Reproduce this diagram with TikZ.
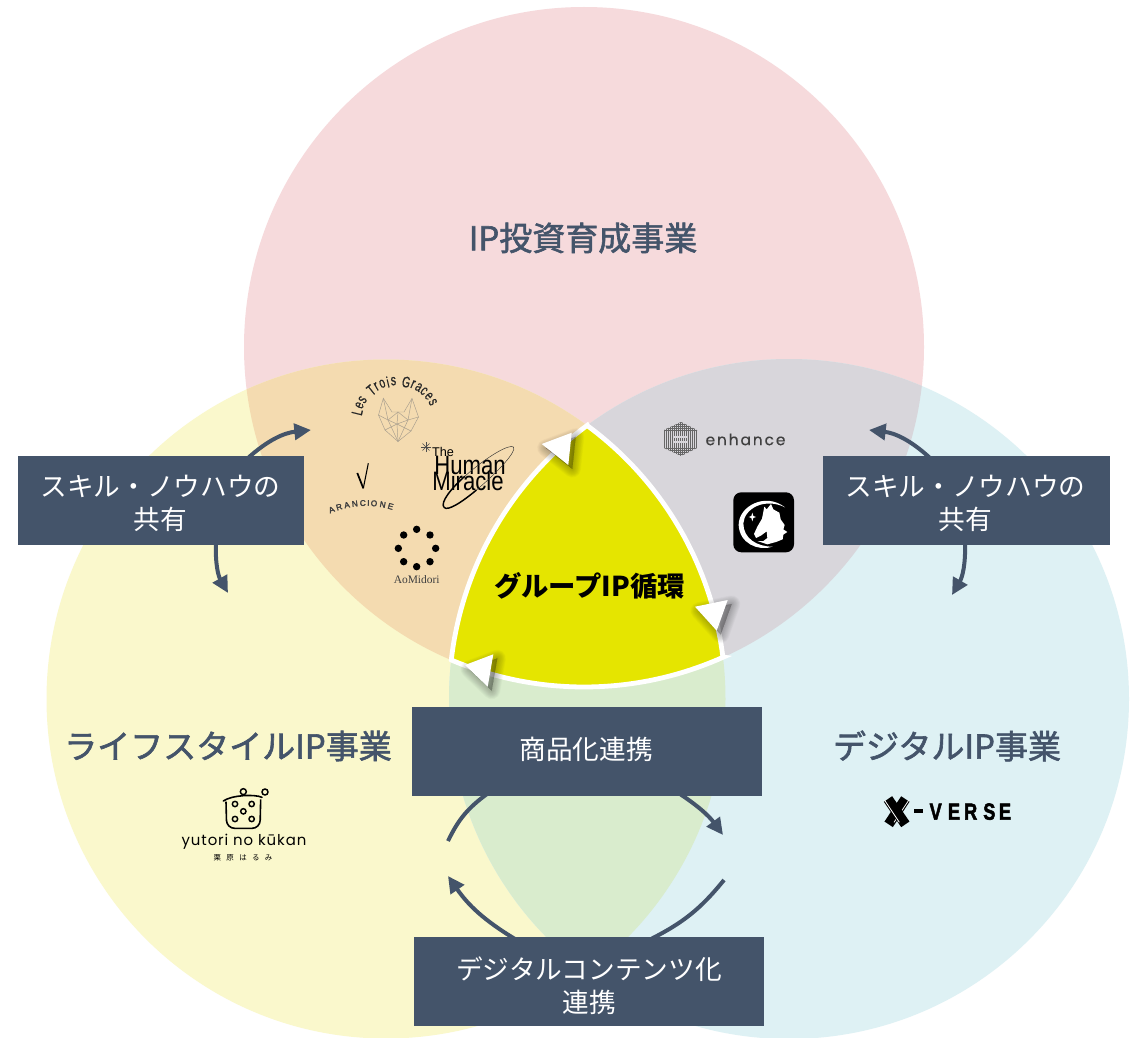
\documentclass[tikz,border=0pt]{standalone}
\usepackage{fontspec}
\usetikzlibrary{arrows.meta}
\setmainfont{Noto Sans CJK JP}
\newfontfamily\cjkbold[FakeBold=1.8]{Noto Sans CJK JP}
\newfontfamily\lsans{Liberation Sans}
\newfontfamily\lserif{Liberation Serif}
\newfontfamily\lheavy[FakeBold=2.5]{Liberation Sans}
\newfontfamily\lmid[FakeBold=0.6]{Liberation Sans}
\newfontfamily\poppsp[LetterSpace=12,FakeBold=0.4]{Poppins}
\newfontfamily\poppyu[LetterSpace=6]{Poppins}
\definecolor{cpink}{HTML}{F6DADC}
\definecolor{cyel}{HTML}{FAF8CC}
\definecolor{cblue}{HTML}{DEF1F4}
\definecolor{corange}{HTML}{F4DBB0}
\definecolor{cgrey}{HTML}{D8D6DB}
\definecolor{cgreen}{HTML}{D9ECCD}
\definecolor{ccentre}{HTML}{E5E500}
\definecolor{cdark}{HTML}{44546A}
\definecolor{cwire}{HTML}{A89E8E}
\def\circT{(584,347) circle [radius=340]}
\def\circL{(386,699) circle [radius=339.5]}
\def\circR{(789,699) circle [radius=340]}
\tikzset{
  box/.style={fill=cdark,text=white,align=center,inner sep=0pt,font=\fontsize{20}{24.75}\selectfont},
  title/.style={text=cdark,inner sep=0pt,font=\fontsize{24.75}{30}\cjkbold},
  flow/.style={draw=cdark,line width=3pt,-{Triangle[length=12.5pt,width=12pt]}},
  wire/.style={draw=cwire,line width=0.35pt},
  head/.style={fill=white},
}
\newcommand{\softhead}[6]{%
  \foreach \w in {13pt,12pt,11pt,10pt,9pt,8pt,7pt,6pt,5pt,4pt,3pt,2pt,1pt,0.2pt}{
    \path[fill=black,draw=black,opacity=0.018,line width=\w,line join=round] ([shift={(4,4)}]#1,#2) -- ([shift={(4,4)}]#3,#4) -- ([shift={(4,4)}]#5,#6) -- cycle;
  }
  \fill[head] (#1,#2) -- (#3,#4) -- (#5,#6) -- cycle;
}
\begin{document}
\begin{tikzpicture}[x=0.75pt,y=-0.75pt]
\useasboundingbox (0,0) rectangle (1132,1038);
\fill[white] (0,0) rectangle (1132,1038);
% circles
\fill[cpink] \circT;
\fill[cyel] \circL;
\fill[cblue] \circR;
\begin{scope}\clip \circT; \fill[corange] \circL; \fill[cgrey] \circR; \end{scope}
\begin{scope}\clip \circL; \fill[cgreen] \circR; \end{scope}
% centre
\draw[white,fill=ccentre,line width=3.6pt,line join=miter,miter limit=10]
  plot[domain=-53.6:-7.1,samples=40] ({386+339.5*cos(\x)},{699+339.5*sin(\x)})
  -- plot[domain=65.8:112.95,samples=40] ({584+340*cos(\x)},{347+340*sin(\x)})
  -- plot[domain=186.6:233.6,samples=40] ({789+340*cos(\x)},{699+340*sin(\x)})
  -- cycle;
% white arrow heads with soft shadows
\softhead{541.7}{444}{571.7}{432.7}{568.3}{465}
\softhead{695}{606.7}{727.7}{600}{716.7}{630.7}
\softhead{465}{665}{493.3}{654.3}{487.7}{686.7}
\node[inner sep=0pt,font=\fontsize{20.5}{24}\bfseries,text=black] (centre) at (589.5,586) {グループIP循環};
% titles
\node[title] (t1) at (583,238) {IP投資育成事業};
\node[title] (t2) at (228,746) {ライフスタイルIP事業};
\node[title] (t3) at (947,746) {デジタルIP事業};
% connector ends
\coordinate (a1) at (248,458); \coordinate (a2) at (311,430);
\coordinate (b1) at (216,543); \coordinate (b2) at (228,593);
\coordinate (c1) at (930,458); \coordinate (c2) at (869,430);
\coordinate (d1) at (965,543); \coordinate (d2) at (952,595);
\coordinate (e1) at (448,841); \coordinate (e2) at (487,794);
\coordinate (f1) at (680,794); \coordinate (f2) at (723,835);
\coordinate (g1) at (724,880); \coordinate (g2) at (651,939);
\coordinate (h1) at (515,939); \coordinate (h2) at (448,876);
\draw[flow] (a1) to[bend left=18] (a2);
\draw[flow] (b1) to[bend right=16] (b2);
\draw[flow] (c1) to[bend right=18] (c2);
\draw[flow] (d1) to[bend left=16] (d2);
\draw[flow,-] (e1) to[bend left=14] (e2);
\draw[flow] (f1) to[bend left=10] (f2);
\draw[flow,-] (g1) to[bend left=12] (g2);
\draw[flow] (h1) to[bend left=12] (h2);
% boxes
\fill[cdark] (18,456) rectangle (304,545);
\node[box] (s1) at (160.5,503.5) {スキル・ノウハウの\\共有};
\fill[cdark] (823,456) rectangle (1110,545);
\node[box] (s2) at (965.5,503.5) {スキル・ノウハウの\\共有};
\fill[cdark] (412,707) rectangle (762,796);
\node[box] (s3) at (586,749) {商品化連携};
\fill[cdark] (414,937) rectangle (764,1026);
\node[box] (s4) at (589,985.5) {デジタルコンテンツ化\\連携};
% Les Trois Graces
\foreach \ch/\ang in {L/166,e/156,s/147,T/129,r/120,o/111,i/103,s/95,G/77,r/67,a/58,c/49,e/39,s/29}{
  \pgfmathsetmacro{\px}{397+41*cos(\ang)}
  \pgfmathsetmacro{\py}{422-41*sin(\ang)}
  \node[inner sep=0pt,rotate=\ang-90,font=\lmid\fontsize{11.5}{12}\selectfont,text=black!85] at (\px,\py) {\scalebox{0.68}[1]{\ch}};
}
\draw[wire] (383.3,398.3) -- (378.5,415) -- (385,430) -- (398,441.5) -- (411,431) -- (418.5,417) -- (412,398.5) -- (404,412) -- (392,412) -- cycle;
\draw[wire] (383.3,398.3) -- (388,420) -- (398,441.5) -- (408,420) -- (412,398.5);
\draw[wire] (378.5,415) -- (388,420) -- (398,412) -- (408,420) -- (418.5,417);
\draw[wire] (385,430) -- (397,424) -- (411,431);
\draw[wire] (398,412) -- (397,424) -- (398,441.5);
\draw[wire] (388,420) -- (397,424) -- (408,420);
% Arancione
\draw[black,line width=1.3pt] (357.3,473) -- (363.3,488.3);
\draw[black,line width=0.8pt] (363.3,488.3) -- (368.3,463.3);
\foreach \ch/\ang in {A/112,R/107,A/102,N/97,C/92,I/88.5,O/85,N/79.5,E/74.5}{
  \pgfmathsetmacro{\px}{366+92*cos(\ang)}
  \pgfmathsetmacro{\py}{595-92*sin(\ang)}
  \node[inner sep=0pt,rotate=\ang-90,font=\lheavy\fontsize{6.2}{6.5}\selectfont,text=black!75] at (\px,\py) {\ch};
}
% Human Miracle
\node[inner sep=0pt,text=black,font=\fontsize{9.5}{10}\lsans] (hm0) at (443,451.5) {The};
\node[inner sep=0pt,text=black,font=\fontsize{20}{20}\lsans] (hm1) at (470,465) {\scalebox{0.83}[1]{Human}};
\node[inner sep=0pt,text=black,font=\fontsize{20}{20}\lsans] (hm2) at (468,480.5) {\scalebox{0.83}[1]{Miracle}};
\foreach \ang in {0,45,90,135}{
  \draw[black!70,line width=0.3pt] ([shift={(\ang:5)}]426,447) -- ([shift={(\ang+180:5)}]426,447);
}
\begin{scope}[shift={(478.3,476.7)},rotate=40]
  \draw[black!80,line width=0.35pt] (-10,-9) .. controls (20,-10) and (46,-5) .. (46,0) .. controls (46,5) and (20,9) .. (-10,9);
  \draw[black,line width=1.1pt] (-46,1.5) .. controls (-46,-5) and (-28,-8.5) .. (-10,-9);
  \draw[black,line width=1.1pt] (-46,1.5) .. controls (-46,7) and (-28,9) .. (-10,9);
\end{scope}
% AoMidori
\foreach \dx/\dy in {350/508,390/525,407/565,390/605,350/620,311/605,295/565,311/525}{
  \fill[black] (300+\dx/3,360+\dy/3) circle [radius=3.7];
}
\node[inner sep=0pt,text=black!75,font=\lserif\fontsize{8.6}{9}\selectfont] (ao) at (416.7,579.5) {AoMidori};
% enhance
\begin{scope}
  \clip (681,422) -- (697,430) -- (697,448) -- (681,456) -- (664,448) -- (664,430) -- cycle;
  \foreach \i in {0,1,...,16}{ \draw[black!60,line width=0.55pt] (664+\i*2,420) -- (664+\i*2,458); }
  \foreach \i in {0,1,2,3,4}{ \draw[black!60,line width=0.55pt] (660,\i*2+422) -- (700,\i*2+422); \draw[black!60,line width=0.55pt] (660,456-\i*2) -- (700,456-\i*2);}
  \fill[cgrey] (674,436) rectangle (688,438);
  \fill[cgrey] (674,441) rectangle (688,443);
\end{scope}
\node[inner sep=0pt,text=black!75,font=\poppsp\fontsize{11.6}{12}\selectfont] (en) at (745.5,439.5) {enhance};
% horse icon
\fill[black,rounded corners=6pt] (733.3,492.3) rectangle (794,552.3);
\begin{scope}[shift={(650,410)},x=0.25pt,y=-0.25pt]
  \fill[white] (405,292) .. controls (345,245) and (265,290) .. (266,345) .. controls (268,400) and (325,425) .. (368,410) .. controls (320,410) and (280,385) .. (280,340) .. controls (283,295) and (345,262) .. (405,292) -- cycle;
  \fill[white] (343,290) -- (350,298) -- (363,282) -- (370,298) -- (388,308) -- (392,328) -- (404,345) -- (400,358) -- (412,366) -- (400,374) -- (398,388) -- (378,396) -- (352,403) -- (322,393) -- (340,393) -- (352,384) -- (350,364) -- (334,376) -- (318,384) -- (312,372) -- (322,350) -- (336,326) -- cycle;
  \fill[white] (307,308) -- (310,318) -- (318,321) -- (310,324) -- (307,334) -- (304,324) -- (296,321) -- (304,318) -- cycle;
\end{scope}
% yutori logo
\begin{scope}[shift={(170,780)},x=0.25pt,y=-0.25pt]
  \draw[black,line width=1.2pt,line cap=round] (160,63) .. controls (185,45) and (255,42) .. (276,52);
  \draw[black,line width=1.2pt,rounded corners=6pt] (168,65) -- (170,145) -- (270,145) -- (272,58);
  \foreach \dx/\dy/\r in {220/35/9,285/36/9,195/72/8,245/72/8,220/94/8,195/117/8,245/117/8}{
    \draw[black,line width=1.1pt] (\dx,\dy) circle [radius=\r];
  }
\end{scope}
\node[inner sep=0pt,text=black,font=\poppyu\fontsize{11.2}{12}\selectfont] (yu) at (244,842) {yutori no kūkan};
\node[inner sep=0pt,text=black,font=\fontsize{5.6}{6}\selectfont] (ku) at (243,858) {栗\hspace{4pt}原\hspace{4pt}は\hspace{4pt}る\hspace{4pt}み};
% X-VERSE
\begin{scope}[shift={(870,785)},x=0.25pt,y=-0.25pt]
  \draw[black,line width=7.5pt] (106,42) -- (56,118);
  \draw[white,line width=0.6pt] (116,46) -- (72,112);
  \draw[black,line width=7.5pt] (54,42) -- (106,118);
  \draw[white,line width=0.6pt] (44,46) -- (88,112);
  \fill[black] (132,72) rectangle (158,84);
  \foreach \ch/\dx in {V/197,E/252,R/302,S/358,E/405}{
    \node[inner sep=0pt,text=black,font=\lheavy\bfseries\fontsize{17.5}{18}\selectfont] at (\dx,80) {\scalebox{0.78}[1]{\ch}};
  }
\end{scope}
\end{tikzpicture}
\end{document}
